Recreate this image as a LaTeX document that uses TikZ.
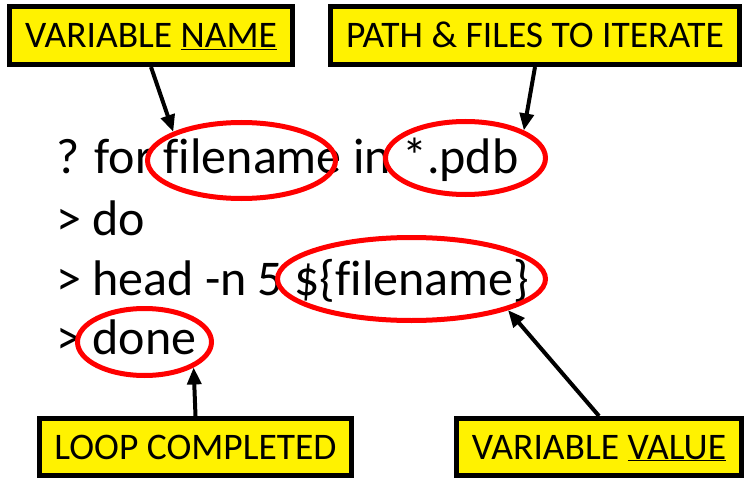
\documentclass[tikz,border=0pt]{standalone}
\usepackage{fontspec}
\setmainfont{Carlito}[Ligatures=NoCommon]
\usetikzlibrary{arrows.meta,shapes.geometric}

\begin{document}
\begin{tikzpicture}
  [x=1pt,y=-1pt,
   notebox/.style={draw=black,line width=5pt,fill=yellow,inner sep=0pt,
     text height=24pt,text depth=0pt,font=\fontsize{37.5}{45}\selectfont},
   code/.style={anchor=base west,inner sep=0pt,font=\fontsize{50}{60}\selectfont},
   ring/.style={ellipse,draw=red,line width=5pt,inner sep=0pt},
   pointer/.style={line width=4pt,-{Triangle[length=17pt,width=14pt]}}]
  \useasboundingbox (0,0) rectangle (747,492);

  % the loop, one line per node
  \node[code] (l1) at (56,174) {? for filename in *.pdb};
  \node[code] (l2) at (56,235) {> do};
  \node[code] (l3) at (56,295) {> head -n 5 \$\{filename\}};
  \node[code] (l4) at (56,354) {> done};

  % red rings round the parts
  \node[ring,minimum width=188pt,minimum height=76pt] (e1) at (241.5,160.5) {};
  \node[ring,minimum width=160pt,minimum height=73pt] (e2) at (465.5,158) {};
  \node[ring,minimum width=268pt,minimum height=83pt] (e3) at (411.5,279) {};
  \node[ring,minimum width=134pt,minimum height=67pt] (e4) at (144.5,342) {};

  % yellow notes
  \node[notebox,minimum width=283pt,minimum height=58pt] (nameb) at (151,35.5) {VARIABLE \underline{NAME}};
  \node[notebox,minimum width=409pt,minimum height=58pt] (pathb) at (535,35.5) {PATH \& FILES TO ITERATE};
  \node[notebox,minimum width=312pt,minimum height=57pt] (loopb) at (195.5,447) {LOOP COMPLETED};
  \node[notebox,minimum width=285pt,minimum height=57pt] (valueb) at (599,447) {VARIABLE \underline{VALUE}};

  \foreach \from/\to in {nameb.south/e1.north west,pathb.south/e2.north east,
                         loopb.north/e4.south east,valueb.north/e3.south east}
    \draw[pointer] (\from) -- (\to);

\end{tikzpicture}
\end{document}
